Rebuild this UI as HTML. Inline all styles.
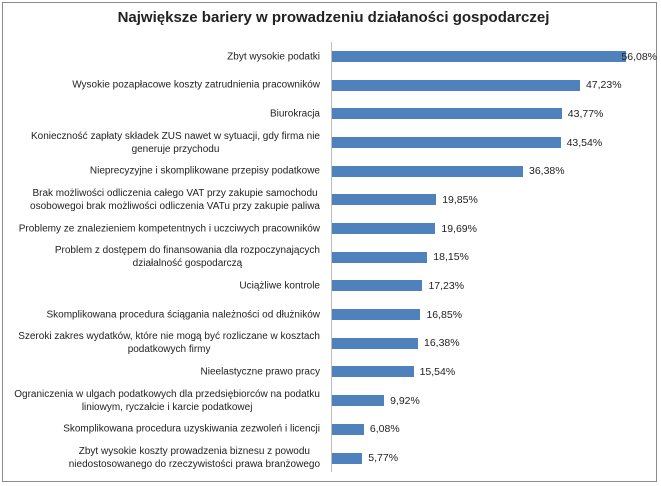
<!DOCTYPE html>
<html><head><meta charset="utf-8"><style>
body{margin:0;background:#fff;}
.c{position:relative;width:661px;height:486px;overflow:hidden;font-family:"Liberation Sans",sans-serif;}
.frame{position:absolute;left:2px;top:2px;width:655px;height:480px;border:1px solid #8c8c8c;box-sizing:border-box;}
.t{position:absolute;left:0;width:661px;top:9px;text-align:center;font-weight:bold;font-size:15px;color:#222;padding-left:6px;box-sizing:border-box;}
.ax{position:absolute;left:331px;top:42px;width:1px;height:430px;background:#bdbdbd;}
.l{position:absolute;right:341px;text-align:center;font-size:10px;line-height:13px;color:#222;transform:translateY(-50%);white-space:nowrap;}
.b{position:absolute;left:332px;height:11px;background:#4f81bd;}
.v{position:absolute;font-size:10.5px;color:#222;transform:translateY(-50%);}
</style></head><body><div class="c">
<div class="frame"></div>
<div class="t">Największe bariery w prowadzeniu działaności gospodarczej</div>
<div class="ax"></div>
<div id="r"></div>
</div>
<script>
var d=[["Zbyt wysokie podatki",56.08,"56,08%"],
["Wysokie pozapłacowe koszty zatrudnienia pracowników",47.23,"47,23%"],
["Biurokracja",43.77,"43,77%"],
["Konieczność zapłaty składek ZUS nawet w sytuacji, gdy firma nie<br>generuje przychodu",43.54,"43,54%"],
["Nieprecyzyjne i skomplikowane przepisy podatkowe",36.38,"36,38%"],
["Brak możliwości odliczenia całego VAT przy zakupie samochodu<br>osobowegoi brak możliwości odliczenia VATu przy zakupie paliwa",19.85,"19,85%"],
["Problemy ze znalezieniem kompetentnych i uczciwych pracowników",19.69,"19,69%"],
["Problem z dostępem do finansowania dla rozpoczynających<br>działalność gospodarczą",18.15,"18,15%"],
["Uciążliwe kontrole",17.23,"17,23%"],
["Skomplikowana procedura ściągania należności od dłużników",16.85,"16,85%"],
["Szeroki zakres wydatków, które nie mogą być rozliczane w kosztach<br>podatkowych firmy",16.38,"16,38%"],
["Nieelastyczne prawo pracy",15.54,"15,54%"],
["Ograniczenia w ulgach podatkowych dla przedsiębiorców na podatku<br>liniowym, ryczałcie i karcie podatkowej",9.92,"9,92%"],
["Skomplikowana procedura uzyskiwania zezwoleń i licencji",6.08,"6,08%"],
["Zbyt wysokie koszty prowadzenia biznesu z powodu<br>niedostosowanego do rzeczywistości prawa branżowego",5.77,"5,77%"]];
var h="";
d.forEach(function(r,i){var y=56.5+i*28.68;var w=r[1]*5.25;
h+='<div class="l" style="top:'+y+'px">'+r[0]+'</div>';
h+='<div class="b" style="top:'+(y-5.5)+'px;width:'+w+'px"></div>';
h+='<div class="v" style="top:'+y+'px;left:'+(i==0?332+w-5:332+w+6)+'px">'+r[2]+'</div>';});
document.getElementById("r").innerHTML=h;
</script></body></html>
